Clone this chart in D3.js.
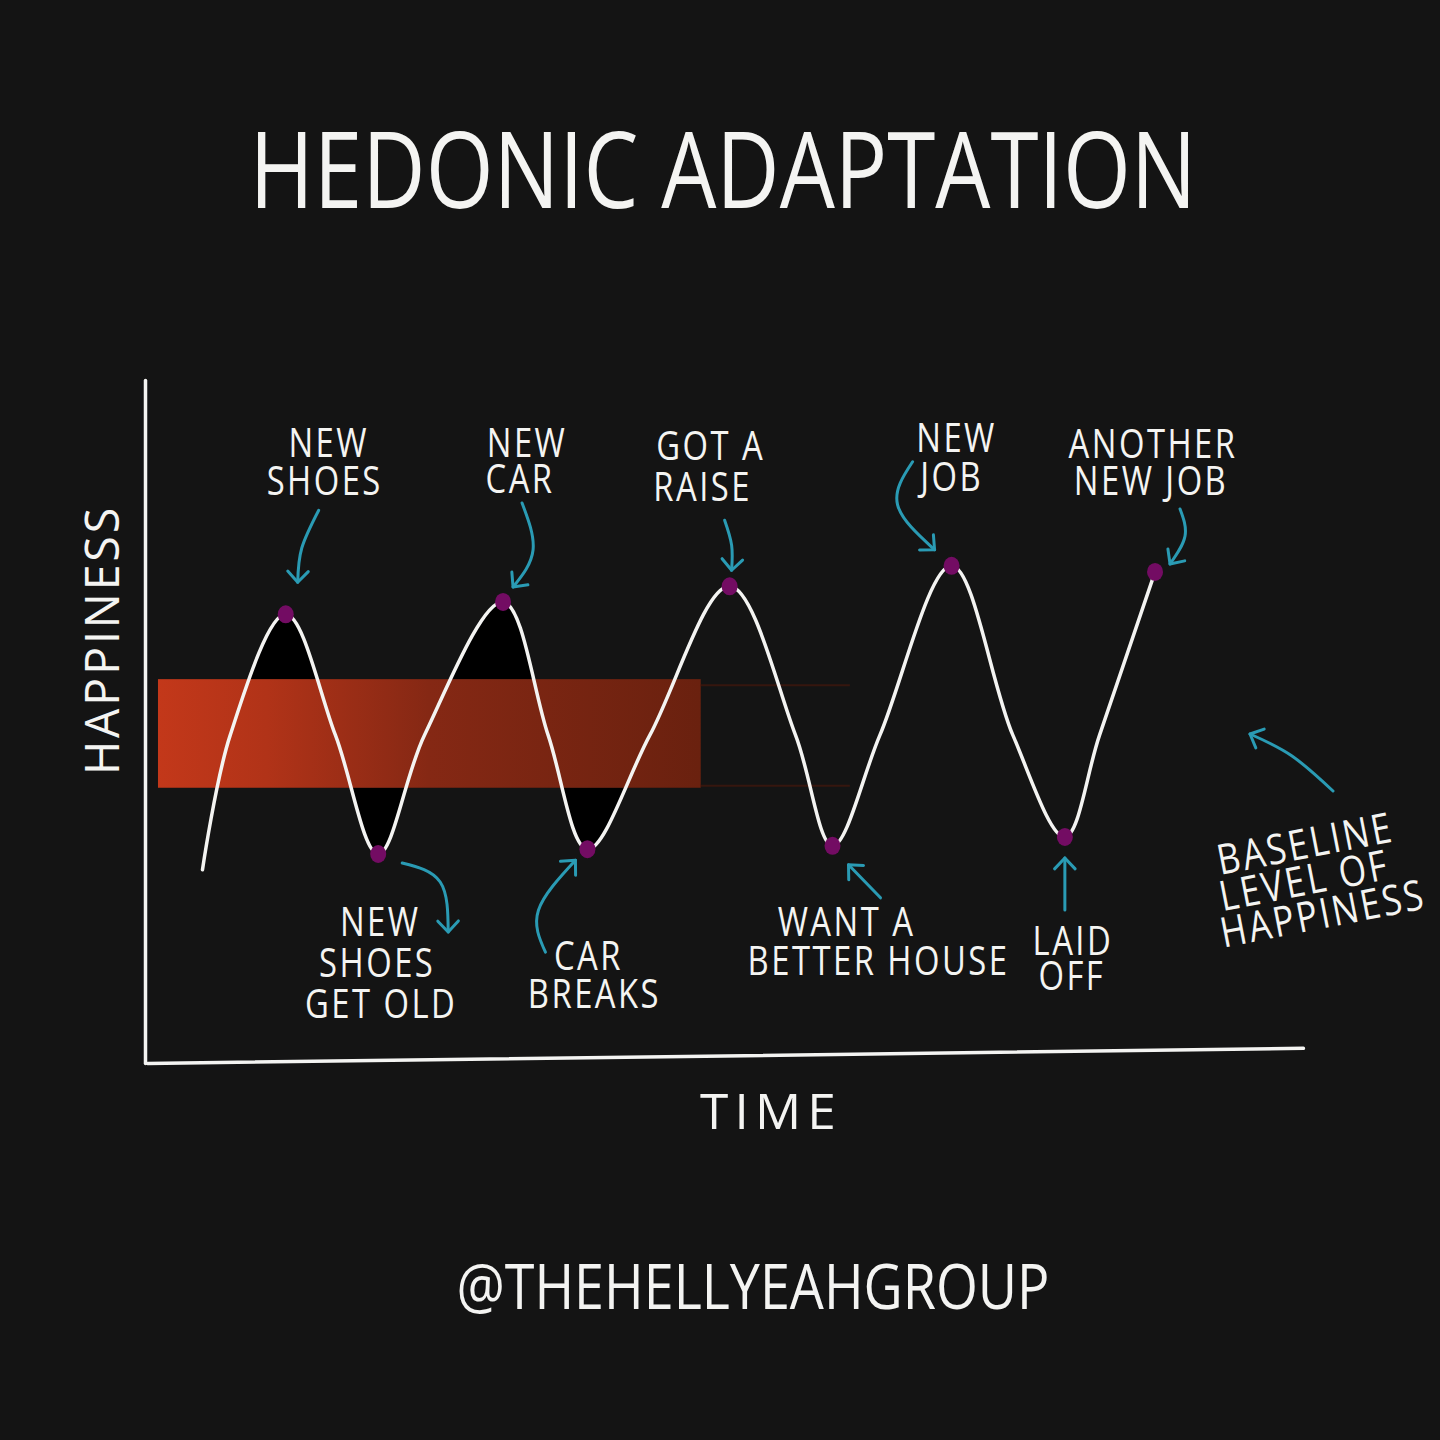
<!DOCTYPE html>
<html>
<head>
<meta charset="utf-8">
<script src="https://cdn.jsdelivr.net/npm/d3@7"></script>
<style>
  html, body { margin: 0; padding: 0; background: #141414; }
  svg { display: block; }
</style>
</head>
<body>
<svg id="chart" width="1440" height="1440"></svg>
<script>
// ---------------- DATA ----------------
const times     = [4.8, 7.2, 12.0, 16.3, 20.0, 24.0, 30.8, 34.7, 38.1, 43.5, 50.4, 56.1, 59.3, 63.4, 69.6, 74.9, 79.4, 82.4, 87.2];
const happiness = [28.3, 48, 65.7, 48, 30.6, 48, 67.5, 48, 31.3, 48, 69.8, 48, 31.8, 48, 72.8, 48, 33.1, 48, 71.9];

const eventIndex = [2, 4, 6, 8, 10, 12, 14, 16, 18];
const eventLabels = [
  ["NEW", "SHOES"],
  ["NEW", "SHOES", "GET OLD"],
  ["NEW", "CAR"],
  ["CAR", "BREAKS"],
  ["GOT A", "RAISE"],
  ["WANT A", "BETTER HOUSE"],
  ["NEW", "JOB"],
  ["LAID", "OFF"],
  ["ANOTHER", "NEW JOB"]
];

const baselineBand = [40.3, 56.2];      // happiness range of the baseline band
const baselineSpan = [0.95, 47.9];      // time range of the solid band
const baselineFade = [47.9, 60.8];      // faded remnant
const title = "HEDONIC ADAPTATION";
const yLabel = "HAPPINESS";
const xLabel = "TIME";
const baselineLabel = ["BASELINE", "LEVEL OF", "HAPPINESS"];
const credit = "@THEHELLYEAHGROUP";

// ---------------- LAYOUT (annotation offsets, px relative to dot) ----------------
const labelLayout = [
  { dx: 41, dy: -157, gap: 38, lineDx: [2, -2] },
  { dx: 2,  dy: 82,   gap: 41, lineDx: [0, -3, 1] },
  { dx: 20, dy: -145, gap: 36, lineDx: [4, -3] },
  { dx: 3,  dy: 121,  gap: 38, lineDx: [-2, 4] },
  { dx: -18, dy: -126, gap: 41, lineDx: [-1, -9] },
  { dx: 30, dy: 90,   gap: 39, lineDx: [-16, 16] },
  { dx: 3,  dy: -114, gap: 39, lineDx: [2, -3] },
  { dx: 8,  dy: 118,  gap: 35, lineDx: [0, -1] },
  { dx: -3, dy: -114, gap: 37, lineDx: [1, -1] }
];
const arrowLayout = [
  [[33, -104], [16, -66], [12, -32]],
  [[24, 9], [62, 28], [70, 78]],
  [[19, -99], [30, -52], [10, -15]],
  [[-42, 103], [-49, 61], [-12, 11]],
  [[-5, -66], [2, -41], [2, -16]],
  [[48, 52], [16, 19]],
  [[-39, -104], [-54, -61], [-17, -16]],
  [[0, 73], [0, 21]],
  [[25, -63], [30, -36], [15, -8]]
];

// ---------------- CHART ----------------
const svg = d3.select("#chart");
const W = 1440, H = 1440;
const BG = "#141414", WHITE = "#f4f4f2", TEAL = "#2a9bb4", DOT = "#730c63";
const FONT = "'Open Sans', 'Noto Sans', 'DejaVu Sans', sans-serif";

svg.append("rect").attr("width", W).attr("height", H).attr("fill", BG);

const x = d3.scaleLinear().domain([0, 100]).range([147, 1303]);
const y = d3.scaleLinear().domain([0, 100]).range([1063, 380]);

const pts = times.map((t, i) => ({ t, h: happiness[i] }));

const defs = svg.append("defs");
const grad = defs.append("linearGradient").attr("id", "bandGrad")
  .attr("x1", "0%").attr("x2", "100%").attr("y1", "0%").attr("y2", "0%");
grad.append("stop").attr("offset", "0%").attr("stop-color", "#c3381a");
grad.append("stop").attr("offset", "20%").attr("stop-color", "#b13318");
grad.append("stop").attr("offset", "50%").attr("stop-color", "#852814");
grad.append("stop").attr("offset", "100%").attr("stop-color", "#6a210f");

// clip regions for black fills (only first two cycles)
defs.append("clipPath").attr("id", "clipAbove").append("rect")
  .attr("x", x(8)).attr("y", 0)
  .attr("width", x(42) - x(8)).attr("height", y(baselineBand[1]));
defs.append("clipPath").attr("id", "clipBelow").append("rect")
  .attr("x", x(12)).attr("y", y(baselineBand[0]))
  .attr("width", x(46) - x(12)).attr("height", H - y(baselineBand[0]));

const curve = d3.curveCatmullRom.alpha(0.5);

// black fill above band
svg.append("path").datum(pts)
  .attr("clip-path", "url(#clipAbove)")
  .attr("fill", "#000")
  .attr("d", d3.area().curve(curve).x(d => x(d.t)).y0(y(baselineBand[1])).y1(d => y(d.h)));
// black fill below band
svg.append("path").datum(pts)
  .attr("clip-path", "url(#clipBelow)")
  .attr("fill", "#000")
  .attr("d", d3.area().curve(curve).x(d => x(d.t)).y0(y(baselineBand[0])).y1(d => y(d.h)));

// baseline band
svg.append("rect")
  .attr("x", x(baselineSpan[0])).attr("y", y(baselineBand[1]))
  .attr("width", x(baselineSpan[1]) - x(baselineSpan[0]))
  .attr("height", y(baselineBand[0]) - y(baselineBand[1]))
  .attr("fill", "url(#bandGrad)");
// faded remnant streaks
const fadeG = svg.append("g").attr("stroke", "#4e180b").attr("stroke-width", 2).attr("opacity", 0.6);
fadeG.append("line")
  .attr("x1", x(baselineFade[0])).attr("x2", x(baselineFade[1]))
  .attr("y1", y(baselineBand[1]) + 6).attr("y2", y(baselineBand[1]) + 6);
fadeG.append("line")
  .attr("x1", x(baselineFade[0])).attr("x2", x(baselineFade[1]))
  .attr("y1", y(baselineBand[0]) - 2).attr("y2", y(baselineBand[0]) - 2);

// axes
svg.append("g").attr("transform", `translate(${x(0) - 2},0)`)
  .call(d3.axisLeft(y).ticks(0).tickSize(0).tickFormat(""));
svg.append("g")
  .attr("transform", `translate(0,${y(0)}) rotate(-0.75, ${x(0)}, 0)`)
  .call(d3.axisBottom(x).ticks(0).tickSize(0).tickFormat(""));
svg.selectAll(".domain").attr("stroke", WHITE).attr("stroke-width", 3.5).attr("stroke-linecap", "round");

// hedonic curve
svg.append("path").datum(pts)
  .attr("fill", "none").attr("stroke", WHITE).attr("stroke-width", 3.5)
  .attr("stroke-linecap", "round").attr("stroke-linejoin", "round")
  .attr("d", d3.line().curve(curve).x(d => x(d.t)).y(d => y(d.h)));

// dots
svg.selectAll(".dot").data(eventIndex).join("ellipse")
  .attr("cx", i => x(times[i])).attr("cy", i => y(happiness[i]))
  .attr("rx", 8).attr("ry", 9).attr("fill", DOT);

// helpers: multi-line text as one <text> with tspans
function drawText(g, lines, cx, baseline, size, opts = {}) {
  if (!Array.isArray(lines)) lines = [lines];
  const sx = opts.sx || 0.82;
  const gap = opts.gap || size;
  const lineDx = opts.lineDx || [];
  const grp = g.append("g").attr("transform", `translate(${cx},${baseline}) scale(${sx},1)`);
  const t = grp.append("text")
    .attr("text-anchor", opts.anchor || "middle")
    .attr("font-family", FONT)
    .attr("font-weight", opts.weight || 400)
    .attr("font-size", size)
    .attr("letter-spacing", opts.ls != null ? opts.ls : 3)
    .attr("fill", WHITE);
  lines.forEach((ln, j) => {
    const ts = t.append("tspan")
      .attr("x", (lineDx[j] || 0) / sx)
      .attr("y", j * gap)
      .text(ln);
    if (opts.len) ts.attr("textLength", opts.len / sx).attr("lengthAdjust", "spacingAndGlyphs");
  });
  return t;
}

function drawArrow(g, points) {
  const line = d3.line().curve(points.length > 2 ? d3.curveNatural : d3.curveLinear);
  const p = g.append("path")
    .attr("d", line(points))
    .attr("fill", "none").attr("stroke", TEAL).attr("stroke-width", 3)
    .attr("stroke-linecap", "round");
  const node = p.node();
  const L = node.getTotalLength();
  const tip = node.getPointAtLength(L);
  const prev = node.getPointAtLength(Math.max(0, L - 6));
  const ang = Math.atan2(tip.y - prev.y, tip.x - prev.x);
  const wl = 15, spread = Math.PI * 0.24;
  const w1 = [tip.x - wl * Math.cos(ang - spread), tip.y - wl * Math.sin(ang - spread)];
  const w2 = [tip.x - wl * Math.cos(ang + spread), tip.y - wl * Math.sin(ang + spread)];
  g.append("path")
    .attr("d", `M${w1[0]},${w1[1]}L${tip.x},${tip.y}L${w2[0]},${w2[1]}`)
    .attr("fill", "none").attr("stroke", TEAL).attr("stroke-width", 3)
    .attr("stroke-linecap", "round").attr("stroke-linejoin", "round");
}

// annotations
const ann = svg.append("g");
eventIndex.forEach((idx, k) => {
  const px = x(times[idx]), py = y(happiness[idx]);
  const L = labelLayout[k];
  drawText(ann, eventLabels[k], px + L.dx, py + L.dy, 40, { gap: L.gap, lineDx: L.lineDx });
  drawArrow(ann, arrowLayout[k].map(([dx, dy]) => [px + dx, py + dy]));
});

// baseline label + arrow
const bl = svg.append("g").attr("transform", "translate(1308,858) rotate(-11)");
drawText(bl, baselineLabel, 0, 0, 42, { sx: 0.84, gap: 36, lineDx: [0, -8, 4] });
drawArrow(svg.append("g"), [[1333, 791], [1292, 756], [1250, 734]]);

// title
drawText(svg, title, 723, 208, 106, { sx: 0.8, len: 947, weight: 400, ls: 0 });

// axis titles
const yl = svg.append("g").attr("transform", "translate(119,640) rotate(-90)");
drawText(yl, yLabel, 0, 0, 48, { sx: 1, ls: 3, len: 270 });
drawText(svg, xLabel, 771, 1129, 50, { sx: 0.9, ls: 6, len: 142 });

// credit
drawText(svg, credit, 753, 1309, 62, { sx: 0.85, len: 593, ls: 0 });
</script>
</body>
</html>
